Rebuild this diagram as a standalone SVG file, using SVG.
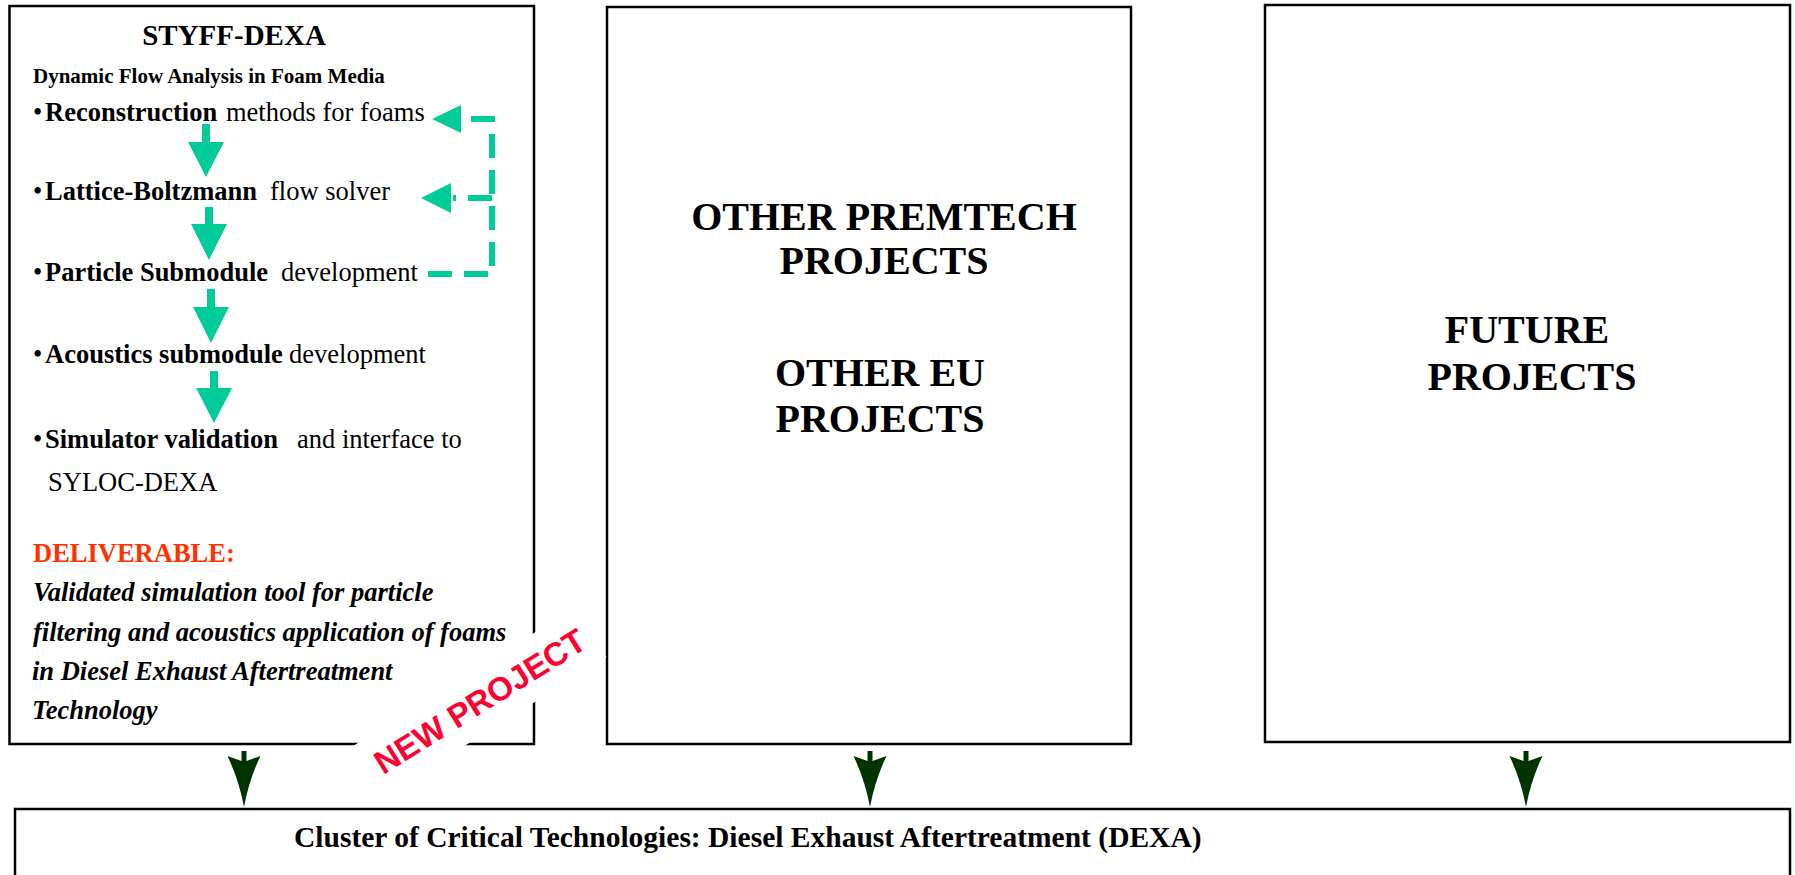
<svg xmlns="http://www.w3.org/2000/svg" width="1795" height="875" viewBox="0 0 1795 875">
<style>
  .box { fill: #ffffff; stroke: #000000; stroke-width: 2.5; }
  .serif { font-family: "Liberation Serif", "Times New Roman", serif; fill: #000000; }
  .b { font-weight: bold; }
  .bi { font-weight: bold; font-style: italic; }
  .t26 { font-size: 26.5px; }
  .big { font-size: 40px; font-weight: bold; text-anchor: middle; }
  .flow { fill: #00CC99; }
  .dash { fill: none; stroke: #00CC99; stroke-width: 6; stroke-dasharray: 24 12; }
  .out { fill: #003300; }
</style>
<rect x="0" y="0" width="1795" height="875" fill="#ffffff"/>

<g id="styff-dexa">
  <rect class="box" x="9.5" y="6" width="524.5" height="738"/>
  <text class="serif b" x="234" y="45" font-size="29" text-anchor="middle">STYFF-DEXA</text>
  <text class="serif b" x="33" y="83" font-size="21">Dynamic Flow Analysis in Foam Media</text>
  <g class="serif t26">
    <text x="33" y="121">•</text>
    <text class="b" x="45" y="121">Reconstruction</text>
    <text x="226" y="121">methods for foams</text>
    <text x="33" y="200">•</text>
    <text class="b" x="45" y="200">Lattice-Boltzmann</text>
    <text x="270" y="200">flow solver</text>
    <text x="33" y="281">•</text>
    <text class="b" x="45" y="281">Particle Submodule</text>
    <text x="281" y="281">development</text>
    <text x="33" y="363">•</text>
    <text class="b" x="45" y="363">Acoustics submodule</text>
    <text x="289" y="363">development</text>
    <text x="33" y="448">•</text>
    <text class="b" x="45" y="448">Simulator validation</text>
    <text x="297" y="448">and interface to</text>
    <text x="48" y="491">SYLOC-DEXA</text>
    <text class="b" x="33" y="562" style="fill:#FF3300">DELIVERABLE:</text>
    <text class="bi" x="33" y="601">Validated simulation tool for particle</text>
    <text class="bi" x="33" y="641">filtering and acoustics application of foams</text>
    <text class="bi" x="32" y="680">in Diesel Exhaust Aftertreatment</text>
    <text class="bi" x="32" y="719">Technology</text>
  </g>
</g>

<g id="other-projects">
  <rect class="box" x="607" y="7" width="524" height="737"/>
  <text class="serif big" x="884" y="230">OTHER PREMTECH</text>
  <text class="serif big" x="884" y="274">PROJECTS</text>
  <text class="serif big" x="880" y="386">OTHER EU</text>
  <text class="serif big" x="880" y="432">PROJECTS</text>
</g>

<g id="future-projects">
  <rect class="box" x="1265" y="5" width="525" height="737"/>
  <text class="serif big" x="1527" y="343" font-size="41">FUTURE</text>
  <text class="serif big" x="1532" y="390">PROJECTS</text>
</g>

<g id="dexa-cluster">
  <rect class="box" x="15" y="809" width="1775" height="100"/>
  <text class="serif b" x="294" y="847" font-size="29.5">Cluster of Critical Technologies: Diesel Exhaust Aftertreatment (DEXA)</text>
</g>

<g id="new-project-label">
  <polygon points="352.3,746.5 575.3,607.1 606.5,657.2 383.5,796.5" fill="#ffffff"/>
  <text transform="translate(486,711) rotate(-32)" x="0" y="0" text-anchor="middle" font-family="'Liberation Sans', Arial, sans-serif" font-weight="bold" font-size="33" fill="#FF0033">NEW PROJECT</text>
</g>

<g id="connectors">
  <g class="flow">
    <path d="M202 124 H210 V142 H224 L206 177 L188 142 H202 Z"/>
    <path d="M205 207 H213 V224 H227 L209 260 L191 224 H205 Z"/>
    <path d="M207 289 H215 V307 H229 L211 343 L193 307 H207 Z"/>
    <path d="M210 371 H218 V388 H232 L214 423 L196 388 H210 Z"/>
    <polygon points="432,119 461,105 461,133"/>
    <polygon points="421,198 451,183 451,213"/>
  </g>
  <path class="dash" d="M428 274 H492 V119 H463"/>
  <path class="dash" d="M492 198 H453"/>
  <g class="out">
    <path d="M241.5 751 H246.5 V761 L260.5 756 Q249 780 244 807 Q239 780 227.5 756 L241.5 761 Z"/>
    <path d="M867.5 751 H872.5 V761 L886.5 756 Q875 780 870 807 Q865 780 853.5 756 L867.5 761 Z"/>
    <path d="M1523.5 751 H1528.5 V761 L1542.5 756 Q1531 780 1526 807 Q1521 780 1509.5 756 L1523.5 761 Z"/>
  </g>
</g>
</svg>
